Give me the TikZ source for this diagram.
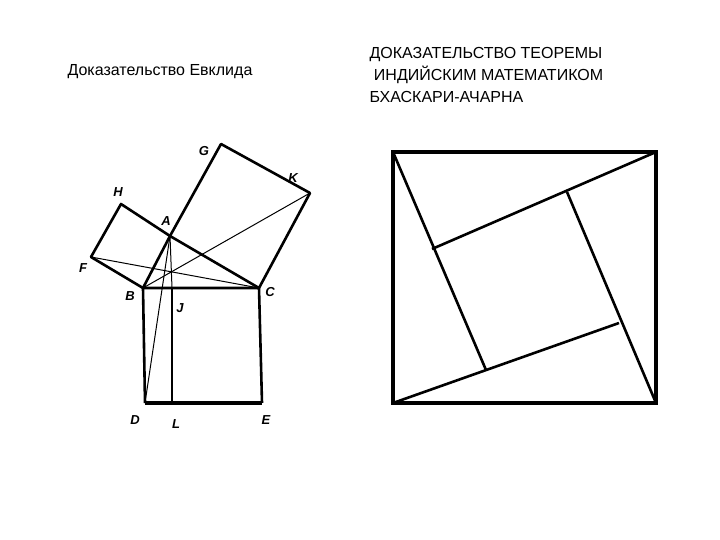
\documentclass[tikz,border=0pt]{standalone}
\usepackage{fontspec}
\setmainfont{Liberation Sans}
\begin{document}
\begin{tikzpicture}[x=1pt,y=-1pt,
  lbl/.style={font=\fontsize{13}{14}\selectfont\bfseries\itshape},
  ttl/.style={font=\fontsize{16}{22}\selectfont,align=left},
  thick1/.style={line width=2.6pt},
  thin1/.style={line width=1pt},
  bold1/.style={line width=4pt}]
\useasboundingbox (0,0) rectangle (720,540);
\node[ttl] (t1) at (160,72) {Доказательство Евклида};
\node[ttl,anchor=north west] (t2) at (366,44) {ДОКАЗАТЕЛЬСТВО ТЕОРЕМЫ\\ \ ИНДИЙСКИМ МАТЕМАТИКОМ\\ БХАСКАРИ-АЧАРНА};
% Euclid
\coordinate (B) at (143,288); \coordinate (C) at (259,288);
\coordinate (D) at (145,403); \coordinate (E) at (262,403);
\coordinate (A) at (170,236); \coordinate (H) at (121,204);
\coordinate (F) at (91,257); \coordinate (G) at (221,144);
\coordinate (K) at (310,193); \coordinate (J) at (172,288);
\coordinate (L) at (172,403);
\draw[thick1,line join=round] (B) -- (F) -- (H) -- (A) -- (C);
\draw[thick1,line join=round] (A) -- (G) -- (K) -- (C);
\draw[thick1] (B) -- (A);
\draw[thick1] (B) -- (C) -- (E);
\draw[thick1] (B) -- (D);
\draw[bold1] (D) -- (E);
\draw[thick1] (J) -- (L);
\draw[thin1] (A) -- (J);
\draw[thin1] (A) -- (D);
\draw[thin1] (F) -- (C);
\draw[thin1] (B) -- (K);
\node[lbl] (lG) at (204,151) {G};
\node[lbl] (lK) at (293,178) {K};
\node[lbl] (lH) at (118,192) {H};
\node[lbl] (lA) at (166,221) {A};
\node[lbl] (lF) at (83,268) {F};
\node[lbl] (lB) at (130,296) {B};
\node[lbl] (lC) at (270,292) {C};
\node[lbl] (lJ) at (180,308) {J};
\node[lbl] (lD) at (135,420) {D};
\node[lbl] (lL) at (176,424) {L};
\node[lbl] (lE) at (266,420) {E};
% Bhaskara
\coordinate (S1) at (393,152); \coordinate (S2) at (656,152);
\coordinate (S3) at (656,403); \coordinate (S4) at (393,403);
\coordinate (P1) at (432,249); \coordinate (P2) at (567,192);
\coordinate (P3) at (619,323); \coordinate (P4) at (486,370);
\draw[line width=4pt] (S1) rectangle (S3);
\draw[thick1] (S1) -- (P4);
\draw[thick1] (S2) -- (P1);
\draw[thick1] (P2) -- (S3);
\draw[thick1] (S4) -- (P3);
\end{tikzpicture}
\end{document}
